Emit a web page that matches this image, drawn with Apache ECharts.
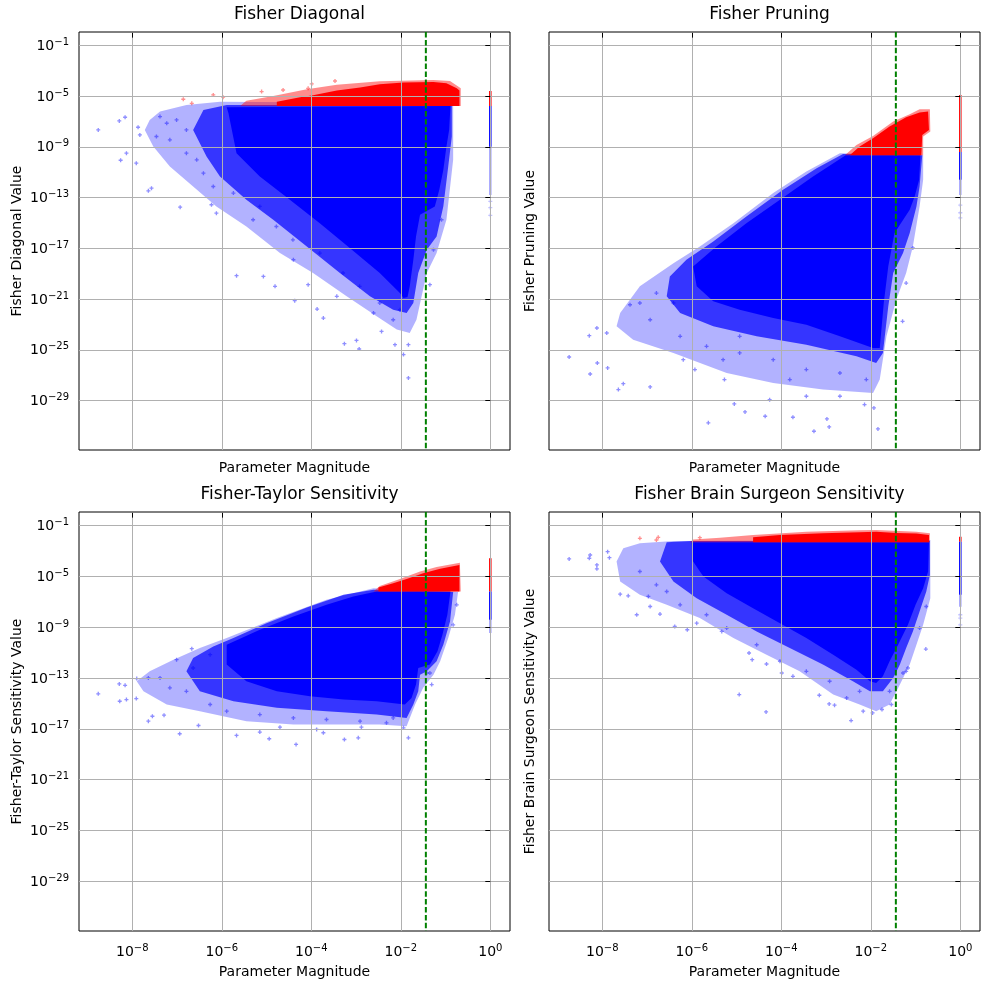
<!DOCTYPE html>
<html lang="en">
  <head>
    <meta charset="UTF-8" />
    <title>Fisher sensitivity scatter</title>
    <script src="https://cdn.jsdelivr.net/npm/echarts@6/dist/echarts.min.js"></script>
  </head>
  <style>
    body,
    html {
      margin: 0;
      height: 100%;
      background: #fff;
    }
  </style>
  <body>
    <div id="chart" style="width:990px;height:989px"></div>
  </body>
  <script>
    // all values are log10 exponents: [log10(magnitude), log10(value)]
    var xTicks = [-8, -6, -4, -2, 0];
    var yTicks = [-29, -25, -21, -17, -13, -9, -5, -1];
    var xRange = [-9.19, 0.44];
    var yRange = [-32.9, 0.05];
    var threshold = -1.44; // green dashed line

    var titles = [
      "Fisher Diagonal",
      "Fisher Pruning",
      "Fisher-Taylor Sensitivity",
      "Fisher Brain Surgeon Sensitivity"
    ];
    var yNames = [
      "Fisher Diagonal Value",
      "Fisher Pruning Value",
      "Fisher-Taylor Sensitivity Value",
      "Fisher Brain Surgeon Sensitivity Value"
    ];

    // ---- Fisher Diagonal ----
    var fdHalo = [[-7.61,-6.88],[-7.38,-6.22],[-6.79,-5.70],[-6.04,-5.44],[-0.83,-5.57],[-0.83,-10.03],[-0.98,-14.75],[-1.20,-17.38],[-1.42,-18.95],[-1.65,-22.63],[-1.80,-23.68],[-2.09,-23.41],[-2.54,-22.36],[-3.21,-20.79],[-3.96,-18.95],[-4.70,-17.38],[-5.45,-15.28],[-6.12,-13.70],[-6.64,-12.13],[-7.16,-10.55],[-7.53,-8.98],[-7.72,-7.67]];
    var fdMid = [[-6.41,-6.09],[-5.89,-5.70],[-0.86,-5.70],[-0.86,-8.19],[-0.94,-10.55],[-1.05,-13.70],[-1.20,-16.07],[-1.42,-17.12],[-1.61,-18.95],[-1.72,-21.31],[-1.87,-22.10],[-2.17,-21.84],[-2.69,-20.79],[-3.36,-18.95],[-4.10,-16.85],[-4.85,-14.75],[-5.45,-13.18],[-6.04,-11.34],[-6.34,-9.77],[-6.64,-7.67]];
    var fdCore = [[-5.89,-5.88],[-0.89,-5.78],[-0.92,-7.67],[-0.98,-8.98],[-1.05,-10.82],[-1.14,-12.39],[-1.24,-13.70],[-1.57,-14.36],[-1.66,-16.07],[-1.72,-17.90],[-1.80,-20.00],[-1.85,-20.84],[-1.94,-20.92],[-2.02,-20.53],[-2.47,-18.95],[-3.14,-16.98],[-3.81,-15.02],[-4.55,-12.97],[-5.15,-11.34],[-5.67,-9.50],[-5.85,-6.35]];
    var fdRedHalo = [[-5.59,-5.78],[-5.45,-5.36],[-4.85,-4.99],[-4.10,-4.46],[-3.43,-4.10],[-2.47,-3.83],[-1.27,-3.73],[-0.90,-3.81],[-0.66,-4.39],[-0.66,-5.78]];
    var fdRed = [[-4.77,-5.78],[-4.77,-5.44],[-4.25,-5.09],[-3.96,-4.94],[-3.43,-4.57],[-2.91,-4.33],[-2.47,-4.07],[-1.94,-3.94],[-1.27,-3.89],[-0.98,-3.99],[-0.75,-4.39],[-0.69,-4.57],[-0.69,-5.78]];
    var fdDots = [[-8.76,-7.67],[-8.29,-6.96],[-8.16,-6.67],[-8.26,-10.06],[-8.13,-9.50],[-7.91,-10.29],[-7.64,-12.47],[-7.57,-12.26],[-6.93,-13.76],[-5.67,-19.16],[-5.07,-19.22],[-4.81,-20.00],[-4.37,-21.13],[-4.07,-19.87],[-3.87,-21.79],[-3.73,-22.50],[-3.26,-24.52],[-2.99,-24.26],[-2.93,-24.94],[-1.94,-25.38],[-1.83,-27.22],[-1.83,-24.60],[-2.13,-24.60],[-2.43,-23.55],[-1.35,-19.87],[-1.09,-14.75],[-1.27,-17.12],[-7.87,-7.46],[-7.83,-8.06],[-6.23,-13.57],[-6.12,-14.23],[-5.30,-14.75],[-4.40,-17.90],[-3.43,-20.79],
      [-7.38,-6.62],[-7.23,-7.14],[-7.01,-6.88],[-6.79,-7.67],[-7.16,-8.45],[-7.46,-8.19],[-6.56,-10.03],[-6.79,-9.50],[-6.41,-11.08],[-6.19,-12.13],[-5.74,-12.65],[-5.15,-13.70],[-4.78,-15.28],[-4.41,-16.33],[-3.81,-17.38],[-3.29,-18.95],[-2.92,-20.00],[-2.47,-21.31],[-2.17,-22.63],[-2.02,-21.84],[-2.61,-22.10]];
    var fdRedDots = [[-6.19,-4.91],[-5.97,-5.09],[-6.86,-5.25],[-6.67,-5.57],[-5.11,-4.65],[-4.63,-4.52],[-4.07,-4.39],[-3.99,-4.04],[-3.47,-3.81]];
    var fdStrip = [-4.6, -5.78, -9.0, -12.8]; // red top, red/blue split, dense end, faint end
    var fdStripDots = [-13.3, -13.8, -14.4];

    // ---- Fisher Pruning ----
    var fpHalo = [[-2.69,-9.50],[-3.44,-10.95],[-4.18,-12.65],[-5.07,-15.02],[-5.82,-16.85],[-6.41,-18.17],[-7.16,-20.00],[-7.60,-22.10],[-7.68,-23.15],[-7.31,-24.20],[-6.41,-25.25],[-5.22,-26.83],[-4.18,-27.61],[-3.07,-28.14],[-1.95,-28.40],[-1.80,-27.35],[-1.65,-23.94],[-1.43,-21.05],[-1.21,-18.95],[-1.06,-16.85],[-0.91,-13.70],[-0.83,-11.60],[-0.83,-9.66]];
    var fpMid = [[-2.62,-9.56],[-3.21,-10.69],[-3.96,-12.39],[-4.78,-14.49],[-5.52,-16.46],[-6.12,-17.90],[-6.49,-19.22],[-6.56,-20.79],[-6.26,-22.10],[-5.52,-23.15],[-4.55,-23.94],[-3.44,-24.60],[-2.32,-25.51],[-1.88,-26.04],[-1.73,-25.25],[-1.61,-21.58],[-1.50,-18.95],[-1.28,-17.38],[-1.13,-15.80],[-0.98,-13.70],[-0.91,-12.13],[-0.85,-9.66]];
    var fpCore = [[-2.56,-9.66],[-0.89,-9.66],[-0.92,-11.60],[-1.02,-12.92],[-1.13,-13.97],[-1.47,-15.80],[-1.61,-18.43],[-1.71,-21.31],[-1.80,-24.86],[-1.95,-24.86],[-2.69,-23.94],[-3.44,-23.02],[-4.18,-22.50],[-4.93,-21.84],[-5.52,-21.18],[-5.89,-20.00],[-5.97,-18.43],[-5.45,-16.85],[-4.78,-15.02],[-4.03,-13.18],[-3.29,-11.34]];
    var fpRedHalo = [[-2.58,-9.66],[-2.32,-8.85],[-1.95,-8.14],[-1.50,-7.01],[-1.13,-6.43],[-0.91,-6.04],[-0.68,-6.04],[-0.67,-7.80],[-0.83,-8.19],[-0.83,-9.66]];
    var fpRed = [[-2.47,-9.66],[-2.25,-8.98],[-1.95,-8.32],[-1.58,-7.40],[-1.21,-6.67],[-0.91,-6.30],[-0.72,-6.22],[-0.70,-7.67],[-0.85,-8.06],[-0.87,-9.66]];
    var fpDots = [[-8.74,-25.57],[-8.29,-23.89],[-8.27,-26.91],[-8.11,-26.04],[-8.12,-23.28],[-7.88,-26.43],[-7.64,-28.14],[-7.53,-27.67],[-7.38,-21.45],[-6.93,-27.93],[-5.63,-30.76],[-5.05,-29.27],[-4.81,-29.90],[-4.36,-30.24],[-3.74,-30.32],[-3.27,-31.42],[-2.98,-30.45],[-2.93,-31.08],[-2.14,-29.32],[-1.93,-29.58],[-1.84,-31.24],[-1.29,-22.76],[-1.06,-16.98],[-1.21,-19.74],[-6.19,-25.78],[-5.93,-26.56],[-4.26,-28.93],[-2.69,-28.66],[-5.27,-27.35],[-3.44,-28.66],[-6.93,-22.63],[-7.90,-23.68],
      [-6.79,-20.53],[-6.41,-21.31],[-7.16,-21.31],[-6.26,-23.94],[-5.67,-24.73],[-4.93,-25.25],[-4.18,-25.78],[-3.44,-26.56],[-2.69,-26.83],[-2.10,-27.35],[-4.93,-23.94],[-5.30,-25.78],[-3.81,-27.35]];
    var fpRedDots = [];
    var fpStrip = [-4.91, -9.4, -11.6, -12.8];
    var fpStripDots = [-13.6, -14.2, -14.6];

    // ---- Fisher-Taylor Sensitivity ----
    var ftHalo = [[-2.61,-5.94],[-3.66,-6.86],[-4.77,-8.29],[-5.89,-9.86],[-6.49,-10.65],[-7.08,-11.56],[-7.61,-12.48],[-7.90,-13.26],[-7.75,-14.05],[-7.23,-15.09],[-6.49,-15.61],[-5.45,-16.40],[-4.40,-16.66],[-3.28,-16.66],[-2.47,-16.66],[-1.87,-16.79],[-1.68,-15.09],[-1.50,-13.78],[-1.27,-12.74],[-1.12,-11.69],[-0.94,-9.86],[-0.79,-8.03],[-0.72,-6.25]];
    var ftMid = [[-2.61,-6.07],[-3.28,-6.46],[-4.10,-7.46],[-5.00,-8.69],[-5.74,-9.86],[-6.19,-10.52],[-6.64,-11.43],[-6.79,-12.48],[-6.49,-14.05],[-5.74,-14.83],[-4.77,-15.35],[-3.66,-15.61],[-2.54,-15.88],[-1.87,-16.14],[-1.72,-15.09],[-1.61,-14.05],[-1.57,-12.74],[-1.42,-12.48],[-1.20,-11.69],[-1.05,-10.39],[-0.90,-8.56],[-0.83,-6.25]];
    var ftCore = [[-2.54,-6.20],[-0.89,-6.20],[-0.96,-8.03],[-1.07,-9.60],[-1.18,-10.91],[-1.35,-11.95],[-1.61,-12.22],[-1.66,-13.52],[-1.76,-14.57],[-1.91,-15.09],[-2.54,-14.83],[-3.28,-14.70],[-4.03,-14.44],[-4.77,-14.05],[-5.45,-13.26],[-5.89,-11.95],[-5.89,-10.39],[-5.15,-9.21],[-4.40,-8.16],[-3.66,-7.25],[-3.06,-6.59]];
    var ftRedHalo = [[-2.61,-6.20],[-2.47,-5.76],[-2.02,-5.21],[-1.57,-4.63],[-1.20,-4.27],[-0.68,-3.95],[-0.66,-6.20]];
    var ftRed = [[-2.50,-6.20],[-2.50,-5.89],[-2.17,-5.55],[-1.87,-5.21],[-1.50,-4.76],[-1.12,-4.42],[-0.69,-4.11],[-0.69,-6.20]];
    var ftDots = [[-8.76,-14.25],[-8.29,-13.47],[-8.16,-13.58],[-8.28,-14.83],[-8.13,-14.70],[-7.91,-14.62],[-7.64,-16.40],[-7.55,-16.01],[-7.29,-15.93],[-6.94,-17.39],[-6.52,-16.74],[-5.67,-17.52],[-5.15,-17.26],[-4.94,-17.78],[-4.70,-16.87],[-4.34,-18.23],[-3.88,-17.05],[-3.73,-17.31],[-3.26,-17.84],[-2.95,-17.71],[-2.88,-16.87],[-1.83,-17.71],[-1.31,-13.52],[-1.42,-12.61],[-7.90,-13.05],[-7.64,-13.00],[-7.01,-11.56],[-6.67,-10.70],[-0.75,-7.25],[-0.83,-8.82],[-1.94,-16.92],
      [-7.38,-13.00],[-7.16,-13.78],[-6.79,-14.05],[-6.26,-15.09],[-5.89,-15.61],[-5.15,-15.88],[-4.40,-16.14],[-3.66,-16.27],[-2.91,-16.40],[-2.32,-16.53],[-2.17,-16.14],[-6.64,-12.22],[-6.26,-11.17],[-1.35,-12.61]];
    var ftRedDots = [];
    var ftStrip = [-3.59, -6.2, -8.42, -9.47];
    var ftStripDots = [];

    // ---- Fisher Brain Surgeon Sensitivity ----
    var fbHalo = [[-7.53,-2.80],[-7.16,-2.41],[-6.41,-2.23],[-0.67,-2.15],[-0.67,-6.73],[-0.83,-8.82],[-0.98,-10.39],[-1.13,-11.95],[-1.35,-13.52],[-1.58,-15.09],[-1.88,-15.61],[-2.25,-15.09],[-2.84,-14.31],[-3.59,-12.48],[-4.33,-11.17],[-5.07,-9.86],[-5.82,-8.29],[-6.56,-7.25],[-7.16,-6.46],[-7.60,-5.42],[-7.68,-3.85]];
    var fbMid = [[-6.56,-2.33],[-6.00,-2.23],[-0.68,-2.23],[-0.68,-4.90],[-0.76,-6.20],[-0.91,-7.77],[-1.06,-9.34],[-1.21,-10.65],[-1.35,-11.95],[-1.50,-13.00],[-1.73,-14.05],[-2.02,-14.05],[-2.40,-13.26],[-3.07,-11.95],[-3.81,-10.65],[-4.55,-9.34],[-5.22,-8.03],[-5.89,-6.73],[-6.41,-5.42],[-6.71,-3.85]];
    var fbCore = [[-6.00,-2.33],[-0.70,-2.33],[-0.72,-4.63],[-0.83,-5.94],[-1.00,-7.25],[-1.17,-8.82],[-1.39,-10.39],[-1.58,-11.69],[-1.73,-12.87],[-1.88,-13.39],[-2.02,-13.26],[-2.32,-12.35],[-2.84,-11.17],[-3.44,-9.86],[-4.03,-8.69],[-4.63,-7.51],[-5.22,-6.33],[-5.74,-5.03],[-5.97,-3.85]];
    var fbRedHalo = [[-6.04,-2.33],[-5.97,-2.12],[-5.37,-1.97],[-4.63,-1.76],[-3.44,-1.50],[-2.25,-1.39],[-1.88,-1.37],[-0.98,-1.50],[-0.68,-1.63],[-0.68,-2.33]];
    var fbRed = [[-4.63,-2.33],[-4.63,-1.94],[-4.03,-1.76],[-3.07,-1.63],[-2.25,-1.55],[-1.88,-1.50],[-1.43,-1.60],[-0.98,-1.65],[-0.70,-1.76],[-0.70,-2.33]];
    var fbDots = [[-8.74,-3.64],[-8.29,-3.59],[-8.27,-3.33],[-8.12,-4.11],[-8.12,-4.42],[-7.88,-3.07],[-7.84,-3.54],[-7.60,-6.41],[-7.42,-6.54],[-7.23,-8.03],[-6.97,-6.59],[-6.93,-7.38],[-6.71,-7.98],[-6.38,-8.95],[-6.10,-9.21],[-5.89,-8.69],[-5.33,-9.34],[-4.94,-14.31],[-4.72,-11.04],[-4.65,-11.56],[-4.34,-15.67],[-4.33,-11.90],[-3.99,-12.61],[-3.74,-12.87],[-3.15,-14.36],[-2.93,-15.04],[-2.81,-15.14],[-2.44,-16.35],[-2.17,-15.61],[-1.96,-15.75],[-1.75,-15.48],[-1.54,-15.09],[-1.28,-12.61],[-1.17,-12.22],[-0.77,-10.73],[-0.91,-9.08],[-0.76,-7.38],
      [-7.16,-4.63],[-6.79,-5.68],[-6.56,-6.20],[-6.26,-7.25],[-5.67,-8.03],[-5.22,-9.08],[-4.55,-10.39],[-4.03,-11.69],[-3.44,-12.48],[-2.92,-13.26],[-2.54,-14.57],[-2.25,-14.05],[-1.58,-14.05],[-1.21,-12.48]];
    var fbRedDots = [[-7.16,-2.02],[-6.75,-1.94],[-6.79,-2.15],[-5.82,-1.97]];
    var fbStrip = [-1.89, -2.28, -6.46, -7.4];
    var fbStripDots = [-8.03, -8.3, -8.82];

    var panels = [
      { halo: fdHalo, mid: fdMid, core: fdCore, redHalo: fdRedHalo, red: fdRed, dots: fdDots, redDots: fdRedDots, strip: fdStrip, stripDots: fdStripDots },
      { halo: fpHalo, mid: fpMid, core: fpCore, redHalo: fpRedHalo, red: fpRed, dots: fpDots, redDots: fpRedDots, strip: fpStrip, stripDots: fpStripDots },
      { halo: ftHalo, mid: ftMid, core: ftCore, redHalo: ftRedHalo, red: ftRed, dots: ftDots, redDots: ftRedDots, strip: ftStrip, stripDots: ftStripDots },
      { halo: fbHalo, mid: fbMid, core: fbCore, redHalo: fbRedHalo, red: fbRed, dots: fbDots, redDots: fbRedDots, strip: fbStrip, stripDots: fbStripDots }
    ];

    var FONT = "DejaVu Sans";
    var PLUS = "path://M1,0h1v1h1v1h-1v1h-1v-1h-1v-1h1z";
    var grids = [
      { left: 79, top: 32, width: 431, height: 418 },
      { left: 549, top: 32, width: 431, height: 418 },
      { left: 79, top: 512, width: 431, height: 419 },
      { left: 549, top: 512, width: 431, height: 419 }
    ];

    function powLabel(v) {
      return "{b|10}{s|" + (v < 0 ? "\u2212" : "") + Math.abs(v) + "}";
    }
    var powRich = {
      b: { fontSize: 14, fontFamily: FONT, color: "#000", verticalAlign: "bottom", lineHeight: 16 },
      s: { fontSize: 10, fontFamily: FONT, color: "#000", verticalAlign: "top", lineHeight: 12 }
    };

    function polygon(i, verts, fill, z) {
      return {
        type: "custom",
        xAxisIndex: i,
        yAxisIndex: i,
        silent: true,
        z: z,
        data: [verts[0]],
        renderItem: function(params, api) {
          return {
            type: "polygon",
            shape: { points: verts.map(function(v) { return api.coord(v); }) },
            style: { fill: fill }
          };
        }
      };
    }
    function dots(i, pts, color, z) {
      return {
        type: "scatter",
        xAxisIndex: i,
        yAxisIndex: i,
        silent: true,
        z: z || 2,
        symbol: PLUS,
        symbolSize: 4,
        itemStyle: { color: color },
        data: pts
      };
    }
    function segment(i, pts, color, width, z, dash) {
      return {
        type: "line",
        xAxisIndex: i,
        yAxisIndex: i,
        silent: true,
        z: z,
        showSymbol: false,
        symbol: "none",
        lineStyle: { color: color, width: width, type: dash || "solid" },
        data: pts
      };
    }

    var series = [];
    panels.forEach(function(p, i) {
      series.push(polygon(i, p.halo, "rgba(0,0,255,0.3)", 1));
      series.push(polygon(i, p.mid, "rgba(0,0,255,0.7)", 1));
      series.push(polygon(i, p.core, "#0000ff", 1));
      series.push(polygon(i, p.redHalo, "rgba(255,0,0,0.45)", 1));
      series.push(polygon(i, p.red, "#ff0000", 1));
      series.push(dots(i, p.dots, "rgba(0,0,255,0.55)"));
      series.push(dots(i, p.redDots, "rgba(255,0,0,0.55)"));
      var s = p.strip;
      series.push(segment(i, [[0, s[0]], [0, s[1]]], "#ff0000", 2.5, 2));
      series.push(segment(i, [[0, s[1]], [0, s[2]]], "#0000ff", 2.5, 2));
      series.push(segment(i, [[0, s[2]], [0, s[3]]], "rgba(0,0,255,0.35)", 2.5, 2));
      series.push(dots(i, p.stripDots.map(function(y) { return [0, y]; }), "rgba(0,0,255,0.3)", 2));
      series.push(segment(i, [[threshold, yRange[1]], [threshold, yRange[0]]], "#008000", 2, 5, [5.5, 2.4]));
    });

    var option = {
      animation: false,
      backgroundColor: "#fff",
      title: titles.map(function(t, i) {
        return {
          text: t,
          left: grids[i].left + grids[i].width / 2,
          top: grids[i].top - 31,
          textAlign: "center",
          textStyle: { fontSize: 17, fontWeight: "normal", color: "#000", fontFamily: FONT }
        };
      }),
      grid: grids.map(function(g) {
        return Object.assign({ show: true, borderColor: "#000", borderWidth: 1, backgroundColor: "transparent", containLabel: false }, g);
      }),
      xAxis: grids.map(function(g, i) {
        var bottom = i >= 2;
        return {
          type: "value",
          gridIndex: i,
          min: xRange[0],
          max: xRange[1],
          z: 3,
          name: "Parameter Magnitude",
          nameLocation: "middle",
          nameGap: bottom ? 34 : 11,
          nameTextStyle: { fontSize: 14, color: "#000", fontFamily: FONT, verticalAlign: "top" },
          axisLine: { show: false },
          axisTick: { show: true, customValues: xTicks, length: 5, lineStyle: { color: "#000" } },
          axisLabel: { show: bottom, customValues: xTicks, margin: 12, formatter: powLabel, rich: powRich },
          splitLine: { show: true, lineStyle: { color: "#b0b0b0", width: 1 } }
        };
      }),
      yAxis: grids.map(function(g, i) {
        var left = i % 2 === 0;
        return {
          type: "value",
          gridIndex: i,
          min: yRange[0],
          max: yRange[1],
          z: 3,
          name: yNames[i],
          nameLocation: "middle",
          nameGap: left ? 55 : 12,
          nameTextStyle: { fontSize: 14, color: "#000", fontFamily: FONT },
          axisLine: { show: false },
          axisTick: { show: true, customValues: yTicks, length: 5, lineStyle: { color: "#000" } },
          axisLabel: { show: left, customValues: yTicks, margin: 10, formatter: powLabel, rich: powRich },
          splitLine: { show: true, lineStyle: { color: "#b0b0b0", width: 1 } }
        };
      }),
      series: series
    };

    var chart = echarts.init(document.querySelector("#chart"));
    chart.setOption(option);
  </script>
</html>
